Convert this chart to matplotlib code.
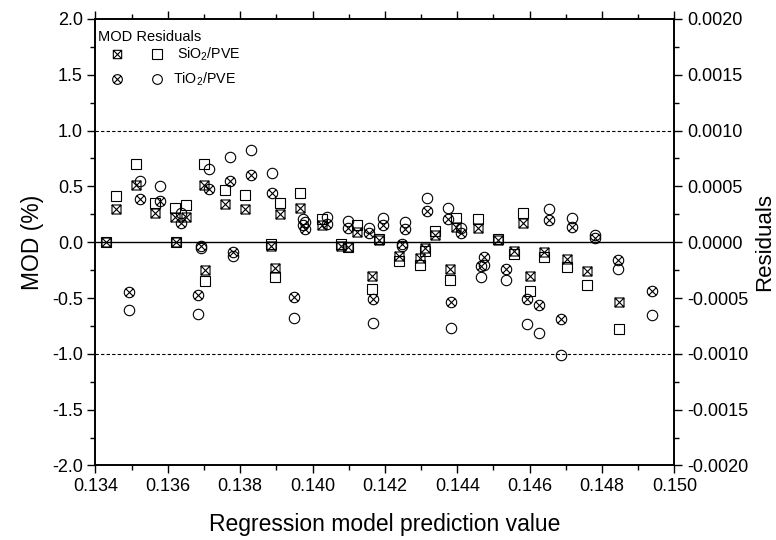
import numpy as np
import matplotlib
matplotlib.use('Agg')
import matplotlib.pyplot as plt
from matplotlib.path import Path
from matplotlib.ticker import MultipleLocator, FormatStrFormatter

plt.rcParams['font.family'] = ['Liberation Sans', 'DejaVu Sans']
plt.rcParams['mathtext.default'] = 'regular'

# SiO2/PVE : prediction value, MOD (%), residuals
xSi = [0.13430, 0.13457, 0.13512, 0.13565, 0.13620, 0.13622, 0.13649, 0.13701, 0.13702,
       0.13758, 0.13813, 0.13884, 0.13896, 0.13911, 0.13966, 0.14026, 0.14080, 0.14097,
       0.14123, 0.14164, 0.14184, 0.14238, 0.14296, 0.14312, 0.14339, 0.14380, 0.14397,
       0.14456, 0.14513, 0.14556, 0.14583, 0.14602, 0.14640, 0.14702, 0.14758, 0.14848]
modSi = [0.00, 0.41, 0.70, 0.35, 0.31, 0.00, 0.33, 0.70, -0.35,
         0.47, 0.42, -0.02, -0.31, 0.35, 0.44, 0.21, -0.02, -0.04,
         0.15, -0.415, 0.03, -0.17, -0.20, -0.08, 0.10, -0.34, 0.22,
         0.21, 0.03, -0.11, 0.26, -0.44, -0.13, -0.22, -0.38, -0.78]
resSi = [0.00000, 0.00030, 0.00051, 0.00026, 0.00023, 0.00000, 0.00023, 0.00051, -0.00025,
         0.00034, 0.00030, -0.00003, -0.00023, 0.00025, 0.00031, 0.00015, -0.00003, -0.000045,
         0.00009, -0.00030, 0.00002, -0.00012, -0.00014, -0.00005, 0.00006, -0.00024, 0.00014,
         0.00013, 0.00002, -0.00008, 0.00017, -0.00030, -0.00009, -0.00015, -0.00026, -0.00054]

# TiO2/PVE
xTi = [0.13494, 0.13522, 0.13578, 0.13637, 0.13684, 0.13691, 0.13713, 0.13772, 0.13779,
       0.13829, 0.13887, 0.13950, 0.13974, 0.13980, 0.14039, 0.14097, 0.14155, 0.14166,
       0.14196, 0.14247, 0.14255, 0.14315, 0.14374, 0.14382, 0.14411, 0.14465, 0.14474,
       0.14534, 0.14593, 0.14625, 0.14654, 0.14686, 0.14718, 0.14781, 0.14844, 0.14937]
modTi = [-0.61, 0.55, 0.50, 0.26, -0.64, -0.05, 0.66, 0.76, -0.12,
         0.83, 0.62, -0.68, 0.21, 0.18, 0.23, 0.19, 0.13, -0.72,
         0.22, -0.03, 0.18, 0.40, 0.31, -0.77, 0.13, -0.31, -0.20,
         -0.34, -0.73, -0.81, 0.30, -1.01, 0.22, 0.06, -0.24, -0.65]
resTi = [-0.00045, 0.00039, 0.00037, 0.00017, -0.00047, -0.00003, 0.00048, 0.00055, -0.00009,
         0.00060, 0.00044, -0.00049, 0.00015, 0.00012, 0.00016, 0.00013, 0.00008, -0.00051,
         0.00015, -0.00002, 0.00012, 0.00028, 0.00021, -0.00054, 0.00008, -0.00021, -0.00013,
         -0.00024, -0.00051, -0.00056, 0.00020, -0.00069, 0.00014, 0.00004, -0.00016, -0.00044]

# markers: square with a cross, circle with a cross
diag = Path([(-1, -1), (1, 1), (-1, 1), (1, -1)],
            [Path.MOVETO, Path.LINETO, Path.MOVETO, Path.LINETO])
sqX = Path.make_compound_path(Path.unit_rectangle().transformed(
    matplotlib.transforms.Affine2D().translate(-0.5, -0.5).scale(2)), diag)
c = 0.7071
diagC = Path([(-c, -c), (c, c), (-c, c), (c, -c)],
             [Path.MOVETO, Path.LINETO, Path.MOVETO, Path.LINETO])
cirX = Path.make_compound_path(Path.unit_circle(), diagC)

fig = plt.figure(figsize=(7.76, 5.4), dpi=100)
ax = fig.add_axes([0.123, 0.138, 0.746, 0.827])
ax2 = ax.twinx()

ax.axhline(0, color='k', lw=1.0, zorder=1)
ax.axhline(1, color='k', lw=0.8, ls=(0, (3, 2)), zorder=1)
ax.axhline(-1, color='k', lw=0.8, ls=(0, (3, 2)), zorder=1)

ms = 7
ax.plot(xSi, modSi, ls='none', marker='s', ms=ms, mfc='none', mec='k', mew=0.8)
ax.plot(xTi, modTi, ls='none', marker='o', ms=ms + 0.5, mfc='none', mec='k', mew=0.8)
ax2.plot(xSi, resSi, ls='none', marker=sqX, ms=ms - 0.5, mfc='none', mec='k', mew=0.8)
ax2.plot(xTi, resTi, ls='none', marker=cirX, ms=ms + 0.5, mfc='none', mec='k', mew=0.8)

ax.set_xlim(0.134, 0.150)
ax.set_ylim(-2.0, 2.0)
ax2.set_ylim(-0.002, 0.002)

ax.xaxis.set_major_locator(MultipleLocator(0.002))
ax.xaxis.set_minor_locator(MultipleLocator(0.001))
ax.xaxis.set_major_formatter(FormatStrFormatter('%.3f'))
ax.yaxis.set_major_locator(MultipleLocator(0.5))
ax.yaxis.set_minor_locator(MultipleLocator(0.25))
ax.yaxis.set_major_formatter(FormatStrFormatter('%.1f'))
ax2.yaxis.set_major_locator(MultipleLocator(0.0005))
ax2.yaxis.set_minor_locator(MultipleLocator(0.00025))
ax2.yaxis.set_major_formatter(FormatStrFormatter('%.4f'))

ax.tick_params(which='both', direction='out', top=True, labelsize=13, width=1, pad=3)
ax.tick_params(which='major', length=6)
ax.tick_params(which='minor', length=3.5)
ax2.tick_params(which='both', direction='out', labelsize=13, width=1, pad=3)
ax2.tick_params(which='major', length=6)
ax2.tick_params(which='minor', length=3.5)
for a in (ax, ax2):
    for s in a.spines.values():
        s.set_linewidth(1.2)

ax.set_xlabel('Regression model prediction value', fontsize=16.5, labelpad=13)
ax.set_ylabel('MOD (%)', fontsize=16.5, labelpad=6)
ax2.set_ylabel('Residuals', fontsize=16, labelpad=4)

# legend block
ax.text(0.004, 0.959, 'MOD Residuals', transform=ax.transAxes, fontsize=10.5, va='center')
ax.plot([0.037], [0.921], transform=ax.transAxes, ls='none', marker=sqX, ms=6, mfc='none', mec='k', mew=0.8, clip_on=False)
ax.plot([0.106], [0.921], transform=ax.transAxes, ls='none', marker='s', ms=6.5, mfc='none', mec='k', mew=0.8, clip_on=False)
ax.text(0.141, 0.921, 'SiO$_2$/PVE', transform=ax.transAxes, fontsize=10.3, va='center')
ax.plot([0.037], [0.865], transform=ax.transAxes, ls='none', marker=cirX, ms=7, mfc='none', mec='k', mew=0.8, clip_on=False)
ax.plot([0.106], [0.865], transform=ax.transAxes, ls='none', marker='o', ms=7, mfc='none', mec='k', mew=0.8, clip_on=False)
ax.text(0.134, 0.865, 'TiO$_2$/PVE', transform=ax.transAxes, fontsize=10.3, va='center')

plt.savefig('out.png', dpi=100)
